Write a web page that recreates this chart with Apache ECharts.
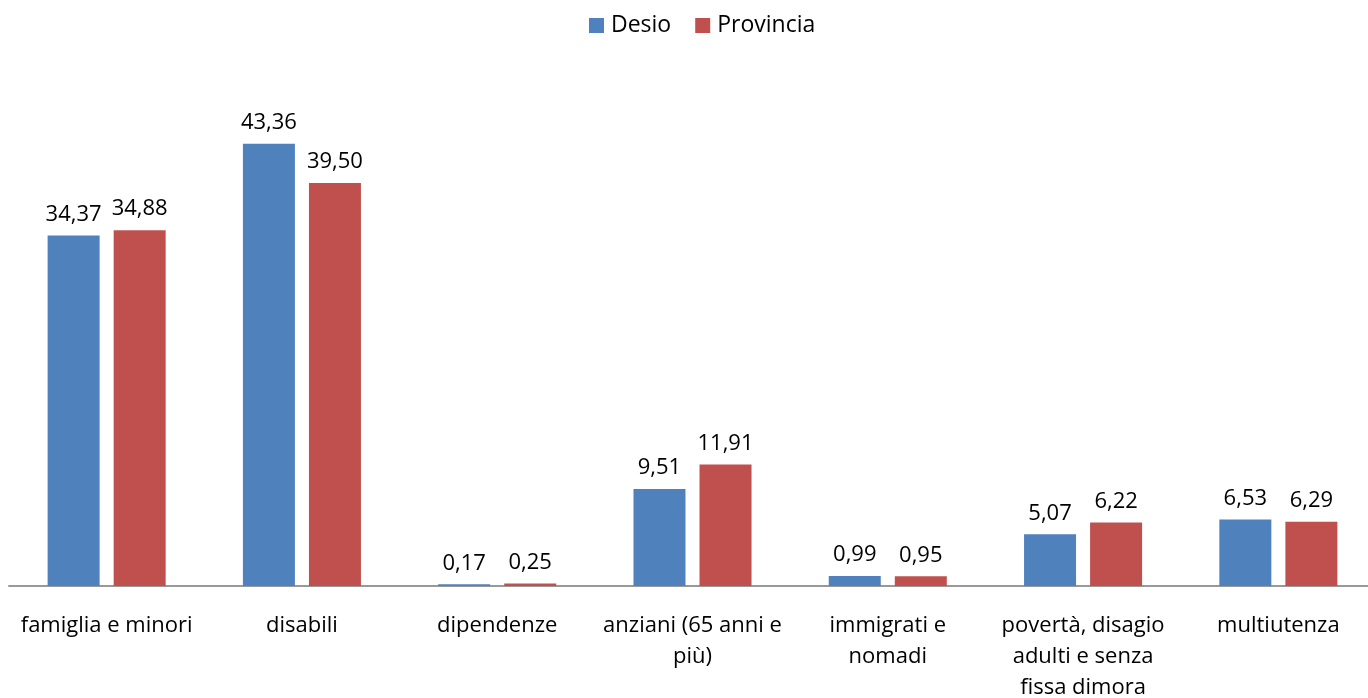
<!DOCTYPE html>
<html><head><meta charset="utf-8">
<script src="https://cdn.jsdelivr.net/npm/echarts@6/dist/echarts.min.js"></script>
<style>html,body{margin:0;padding:0;background:#fff}#c{width:1368px;height:698px}</style>
</head><body><div id="c"></div>
<script>
const categories = ["famiglia e minori", "disabili", "dipendenze", "anziani (65 anni e\npiù)", "immigrati e\nnomadi", "povertà, disagio\nadulti e senza\nfissa dimora", "multiutenza"];
const desio = [34.37, 43.36, 0.17, 9.51, 0.99, 5.07, 6.53];
const provincia = [34.88, 39.50, 0.25, 11.91, 0.95, 6.22, 6.29];
const seriesNames = ["Desio", "Provincia"];

const FONT = "'Open Sans', Lato, sans-serif";
const fmt = p => p.value.toFixed(2).replace('.', ',');
const chart = echarts.init(document.getElementById('c'));
chart.setOption({
  animation: false,
  legend: {
    top: 9, left: 584, itemWidth: 15, itemHeight: 15, itemGap: 24,
    icon: 'rect',
    textStyle: {fontFamily: FONT, fontSize: 23, color: '#000', padding: [0, 0, 0, 2]}
  },
  grid: {left: 9, right: -8, top: 76, bottom: 112, containLabel: false, outerBoundsMode: 'none'},
  xAxis: {
    type: 'category', data: categories,
    axisLine: {lineStyle: {color: '#999', width: 2}},
    axisTick: {show: false},
    axisLabel: {
      interval: 0, margin: 24, fontFamily: FONT, fontSize: 22, color: '#000',
      lineHeight: 31, align: 'center'
    }
  },
  yAxis: {type: 'value', min: 0, max: 50, show: false, splitLine: {show: false}},
  series: [
    {name: seriesNames[0], type: 'bar', data: desio, barWidth: 52, barGap: '27%', barCategoryGap: '39%',
     itemStyle: {color: '#4F81BD'},
     label: {show: true, position: 'top', distance: 10, formatter: fmt, fontFamily: FONT, fontSize: 22, color: '#000'}},
    {name: seriesNames[1], type: 'bar', data: provincia, barWidth: 52, barGap: '27%',
     itemStyle: {color: '#C0504D'},
     label: {show: true, position: 'top', distance: 10, formatter: fmt, fontFamily: FONT, fontSize: 22, color: '#000'}}
  ]
});
</script></body></html>
